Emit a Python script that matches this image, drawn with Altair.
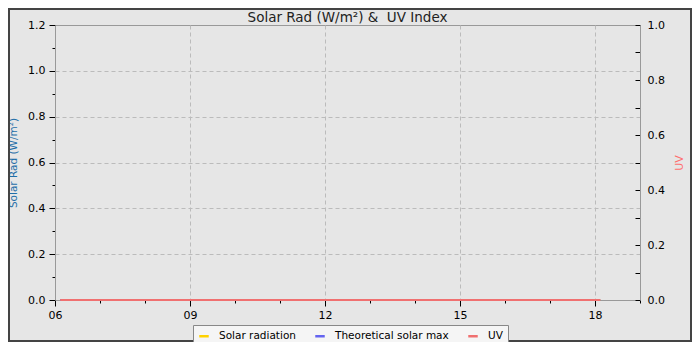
import altair as alt
import pandas as pd

# ---- data (all readings are zero) ----
times = ["06:07", "06:30", "07:00", "07:30", "08:00", "08:30", "09:00", "09:30",
         "10:00", "10:30", "11:00", "11:30", "12:00", "12:30", "13:00", "13:30",
         "14:00", "14:30", "15:00", "15:30", "16:00", "16:30", "17:00", "17:30",
         "18:00", "18:07"]
solar_rad = [0.0] * len(times)
theoretical_max = [0.0] * len(times)
uv_index = [0.0] * len(times)

series_names = ["Solar radiation", "Theoretical solar max", "UV"]
series_colors = ["#ffd200", "#6464f0", "#f07070"]
x_ticks = list(range(6, 20))
left_ticks = [round(i * 0.1, 1) for i in range(13)]
right_ticks = [round(i * 0.1, 1) for i in range(11)]


def to_hours(t):
    h, m = t.split(":")
    return int(h) + int(m) / 60.0


hrs = [to_hours(t) for t in times]
df_left = pd.DataFrame({
    "hour": hrs * 2,
    "series": [series_names[0]] * len(hrs) + [series_names[1]] * len(hrs),
    "value": solar_rad + theoretical_max,
})
df_uv = pd.DataFrame({"hour": hrs, "series": [series_names[2]] * len(hrs), "value": uv_index})

FONT = "DejaVu Sans"

color = alt.Color(
    "series:N",
    scale=alt.Scale(domain=series_names, range=series_colors),
    legend=alt.Legend(
        title=None, orient="none", direction="horizontal",
        legendX=138, legendY=300,
        symbolType="stroke", symbolSize=90, symbolStrokeWidth=2.5,
        labelFont=FONT, labelFontSize=10.5, labelColor="#000",
        labelOffset=9, columnPadding=14, padding=5,
        fillColor="#f5f5f5", strokeColor="#888",
    ),
)

major_x = "datum.value % 3 == 0"
x_enc = alt.X(
    "hour:Q",
    scale=alt.Scale(domain=[6, 19], nice=False, zero=False),
    axis=alt.Axis(
        title=None, values=x_ticks,
        labelExpr=f"{major_x} ? format(datum.value, '02d') : ''",
        tickSize={"condition": {"test": major_x, "value": 6}, "value": 3},
        gridOpacity={"condition": {"test": f"{major_x} && datum.value > 6", "value": 1}, "value": 0},
        labelPadding=3, labelFlush=False,
    ),
)

major_y = "round(datum.value * 10) % 2 == 0"
left = alt.Chart(df_left).mark_line(strokeWidth=2).encode(
    x=x_enc,
    y=alt.Y(
        "value:Q",
        scale=alt.Scale(domain=[0, 1.2], nice=False),
        axis=alt.Axis(
            title="Solar Rad (W/m²)", titleColor="#1f6ea8", titleFontSize=10.5,
            titleFontWeight="normal", titleFont=FONT, titlePadding=9,
            values=left_ticks,
            labelExpr=f"{major_y} ? format(datum.value, '.1f') : ''",
            tickSize={"condition": {"test": major_y, "value": 6}, "value": 3},
            gridOpacity={"condition": {"test": f"{major_y} && datum.value > 0.05 && datum.value < 1.15", "value": 1}, "value": 0},
            labelPadding=4,
        ),
    ),
    color=color,
)

right = alt.Chart(df_uv).mark_line(strokeWidth=2).encode(
    x=x_enc,
    y=alt.Y(
        "value:Q",
        scale=alt.Scale(domain=[0, 1.0], nice=False),
        axis=alt.Axis(
            orient="right", title="UV", titleColor="#ff6e6e", titleFontSize=11,
            titleFontWeight="normal", titleFont=FONT, titleAngle=270, titlePadding=20,
            values=right_ticks, grid=False,
            labelExpr=f"{major_y} ? format(datum.value, '.1f') : ''",
            tickSize={"expr": "-5"},
            labelPadding=12,
        ),
    ),
    color=color,
)

frame = alt.Chart(alt.Data(values=[{}])).mark_rect(
    fillOpacity=0, stroke="#444444", strokeWidth=4
).encode(
    x=alt.value(-47), x2=alt.value(637), y=alt.value(-17), y2=alt.value(317)
)

chart = alt.layer(left, right, frame).resolve_scale(y="independent").properties(
    width=585, height=275,
    title=alt.TitleParams("Solar Rad (W/m²) &\u00a0 UV Index", fontSize=13.5, font=FONT,
                          fontWeight="normal", color="#222", offset=-18),
    autosize=alt.AutoSizeParams(type="none"),
    padding={"left": 47, "top": 17, "right": 52, "bottom": 42},
    background="#e6e6e6",
).configure_view(
    stroke="#999", fill="#e6e6e6"
).configure_axis(
    domainColor="#999", tickColor="#000", labelColor="#000",
    labelFont=FONT, labelFontSize=11,
    gridColor="#bbb", gridDash=[4, 3], gridWidth=1,
)

chart.save("out.html", embed_options={"renderer": "svg", "actions": False})
